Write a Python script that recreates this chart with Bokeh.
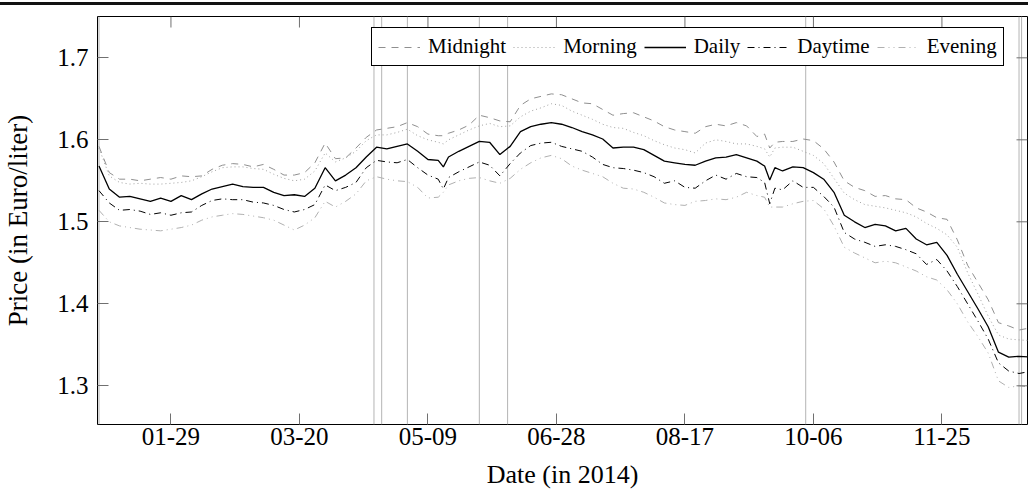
from bokeh.plotting import figure
from bokeh.models import FixedTicker, Span, Div
from bokeh.layouts import column
from bokeh.embed import file_html
from bokeh.resources import INLINE

# day of year 2014 (0 = Jan 01)
days = [0, 4, 8, 12, 16, 20, 24, 28, 32, 36,
        40, 44, 48, 52, 56, 60, 64, 68, 72, 76,
        80, 84, 88, 92, 96, 100, 104, 108, 112, 116,
        120, 124, 128, 132, 134, 136, 140, 144, 148, 152,
        156, 160, 164, 168, 172, 176, 180, 184, 188, 192,
        196, 200, 204, 208, 212, 216, 220, 224, 228, 232,
        236, 240, 244, 248, 252, 256, 259, 261, 263, 266,
        270, 274, 278, 282, 286, 290, 294, 298, 302, 306,
        310, 314, 318, 322, 326, 330, 334, 338, 342, 346,
        350, 354, 358, 363]

midnight = [1.592, 1.560, 1.552, 1.552, 1.550, 1.552, 1.554, 1.552, 1.556, 1.555,
            1.556, 1.564, 1.569, 1.571, 1.570, 1.567, 1.570, 1.564, 1.557, 1.557,
            1.560, 1.572, 1.596, 1.577, 1.578, 1.590, 1.603, 1.612, 1.614, 1.616,
            1.621, 1.616, 1.607, 1.605, 1.605, 1.608, 1.612, 1.618, 1.630, 1.627,
            1.623, 1.622, 1.642, 1.650, 1.653, 1.656, 1.655, 1.650, 1.645, 1.644,
            1.637, 1.630, 1.632, 1.633, 1.628, 1.623, 1.616, 1.612, 1.610, 1.608,
            1.616, 1.619, 1.617, 1.621, 1.617, 1.604, 1.607, 1.590, 1.597, 1.598,
            1.598, 1.601, 1.599, 1.589, 1.573, 1.550, 1.542, 1.538, 1.531, 1.532,
            1.528, 1.527, 1.517, 1.512, 1.505, 1.503, 1.478, 1.447, 1.426, 1.405,
            1.377, 1.373, 1.368, 1.371]

morning = [1.590, 1.556, 1.548, 1.546, 1.547, 1.546, 1.546, 1.547, 1.548, 1.550,
           1.555, 1.561, 1.566, 1.567, 1.567, 1.565, 1.564, 1.558, 1.553, 1.550,
           1.552, 1.562, 1.584, 1.573, 1.578, 1.586, 1.599, 1.606, 1.606, 1.609,
           1.613, 1.605, 1.600, 1.597, 1.595, 1.600, 1.606, 1.612, 1.617, 1.620,
           1.616, 1.617, 1.628, 1.635, 1.639, 1.644, 1.642, 1.635, 1.630, 1.625,
           1.619, 1.615, 1.614, 1.609, 1.605, 1.599, 1.594, 1.590, 1.588, 1.584,
           1.596, 1.600, 1.598, 1.595, 1.595, 1.592, 1.589, 1.579, 1.590, 1.591,
           1.591, 1.586, 1.581, 1.571, 1.553, 1.535, 1.527, 1.521, 1.519, 1.517,
           1.514, 1.511, 1.506, 1.498, 1.492, 1.484, 1.469, 1.438, 1.412, 1.385,
           1.362, 1.357, 1.356, 1.355]

daily = [1.568, 1.540, 1.530, 1.531, 1.528, 1.525, 1.529, 1.525, 1.532, 1.527,
         1.534, 1.540, 1.543, 1.546, 1.543, 1.542, 1.542, 1.536, 1.532, 1.533,
         1.531, 1.541, 1.566, 1.550, 1.557, 1.566, 1.579, 1.591, 1.589, 1.592,
         1.595, 1.586, 1.576, 1.575, 1.567, 1.579, 1.586, 1.592, 1.598, 1.597,
         1.582, 1.592, 1.610, 1.616, 1.619, 1.621, 1.619, 1.615, 1.610, 1.606,
         1.601, 1.590, 1.591, 1.591, 1.588, 1.581, 1.574, 1.572, 1.570, 1.569,
         1.574, 1.578, 1.579, 1.582, 1.578, 1.574, 1.568, 1.551, 1.566, 1.562,
         1.567, 1.566, 1.560, 1.552, 1.536, 1.508, 1.500, 1.493, 1.497, 1.495,
         1.489, 1.492, 1.479, 1.472, 1.475, 1.459, 1.436, 1.415, 1.394, 1.372,
         1.341, 1.335, 1.336, 1.335]

daytime = [1.538, 1.523, 1.514, 1.515, 1.513, 1.509, 1.511, 1.508, 1.511, 1.512,
           1.520, 1.526, 1.528, 1.527, 1.527, 1.524, 1.523, 1.520, 1.515, 1.512,
           1.515, 1.521, 1.545, 1.538, 1.542, 1.548, 1.566, 1.575, 1.573, 1.572,
           1.576, 1.566, 1.557, 1.552, 1.540, 1.554, 1.561, 1.567, 1.573, 1.569,
           1.556, 1.571, 1.584, 1.593, 1.596, 1.597, 1.592, 1.589, 1.586, 1.579,
           1.570, 1.566, 1.565, 1.563, 1.560, 1.555, 1.547, 1.550, 1.542, 1.541,
           1.550, 1.557, 1.552, 1.559, 1.555, 1.554, 1.548, 1.522, 1.541, 1.539,
           1.550, 1.542, 1.542, 1.531, 1.518, 1.487, 1.479, 1.475, 1.470, 1.472,
           1.470, 1.466, 1.461, 1.448, 1.454, 1.440, 1.421, 1.400, 1.379, 1.357,
           1.328, 1.318, 1.315, 1.318]

evening = [1.514, 1.500, 1.495, 1.493, 1.491, 1.490, 1.489, 1.491, 1.493, 1.496,
           1.502, 1.506, 1.508, 1.510, 1.509, 1.507, 1.505, 1.502, 1.496, 1.490,
           1.496, 1.505, 1.525, 1.518, 1.525, 1.534, 1.550, 1.555, 1.552, 1.550,
           1.549, 1.542, 1.529, 1.530, 1.536, 1.545, 1.550, 1.553, 1.554, 1.550,
           1.547, 1.553, 1.564, 1.572, 1.578, 1.581, 1.577, 1.568, 1.563, 1.559,
           1.555, 1.547, 1.541, 1.540, 1.536, 1.530, 1.523, 1.521, 1.520, 1.525,
           1.526, 1.528, 1.527, 1.530, 1.536, 1.532, 1.530, 1.518, 1.518, 1.518,
           1.522, 1.525, 1.526, 1.516, 1.495, 1.469, 1.462, 1.456, 1.450, 1.452,
           1.450, 1.445, 1.440, 1.433, 1.429, 1.417, 1.400, 1.378, 1.360, 1.340,
           1.306, 1.298, 1.300, 1.298]

# public holidays (day of year) shown as vertical rules
holidays = [0, 107, 110, 120, 148, 159, 275, 358, 359]

tick_days = [28, 78, 128, 178, 228, 278, 328]
tick_labels = ["01-29", "03-20", "05-09", "06-28", "08-17", "10-06", "11-25"]
y_ticks = [1.3, 1.4, 1.5, 1.6, 1.7]
y_tick_labels = ["1.3", "1.4", "1.5", "1.6", "1.7"]

FONT = "Liberation Serif"
TICK_COLOR = "#707070"

X0, X1 = -0.58, 361.3
Y0, Y1 = 1.2528, 1.7504
FRAME_W, FRAME_H = 930, 408
TICK_LEN = 11

# thin page rule across the top
rule = Div(text="", width=1028, height=3, margin=(2, 0, 0, 0),
           styles={"background-color": "#111111"})

p = figure(width=1028, height=490, output_backend="svg", toolbar_location=None,
           x_range=(X0, X1), y_range=(Y0, Y1),
           min_border_left=97, min_border_right=1, min_border_top=11,
           min_border_bottom=71)

p.grid.visible = False
p.outline_line_color = "black"
p.outline_line_width = 1
p.outline_line_alpha = 1
p.background_fill_color = "white"
p.border_fill_color = "white"

for d in holidays:
    p.add_layout(Span(location=d, dimension="height", line_color="#b4b4b4",
                      line_width=1, level="underlay"))

p.line(days, midnight, line_color="#8f8f8f", line_width=1, line_dash="7 6",
       legend_label="Midnight")
p.line(days, morning, line_color="#a0a0a0", line_width=1, line_dash="1 3",
       legend_label="Morning")
p.line(days, daily, line_color="black", line_width=1.3, legend_label="Daily")
p.line(days, daytime, line_color="black", line_width=1, line_dash="7 4 1 4",
       legend_label="Daytime")
p.line(days, evening, line_color="#b0b0b0", line_width=1,
       line_dash="7 4 1 4 1 4", legend_label="Evening")

# mirrored inward ticks on the top and right edges
ty = Y1 - TICK_LEN * (Y1 - Y0) / FRAME_H
p.segment(x0=tick_days, y0=[Y1] * len(tick_days), x1=tick_days,
          y1=[ty] * len(tick_days), line_color=TICK_COLOR, line_width=1)
tx = X1 - TICK_LEN * (X1 - X0) / FRAME_W
p.segment(x0=[X1] * len(y_ticks), y0=y_ticks, x1=[tx] * len(y_ticks),
          y1=y_ticks, line_color=TICK_COLOR, line_width=1)

# bottom axis
xa = p.xaxis[0]
xa.ticker = FixedTicker(ticks=tick_days)
xa.major_label_overrides = {d: l for d, l in zip(tick_days, tick_labels)}
xa.axis_label = "Date (in 2014)"

# left axis
ya = p.yaxis[0]
ya.ticker = FixedTicker(ticks=y_ticks)
ya.major_label_overrides = {v: l for v, l in zip(y_ticks, y_tick_labels)}
ya.axis_label = "Price (in Euro/liter)"

for ax in (xa, ya):
    ax.axis_line_color = None
    ax.major_tick_in = TICK_LEN
    ax.major_tick_out = 0
    ax.minor_tick_in = 0
    ax.minor_tick_out = 0
    ax.major_tick_line_color = TICK_COLOR
    ax.major_label_text_font = FONT
    ax.major_label_text_font_size = "25px"
    ax.major_label_text_color = "black"
    ax.axis_label_text_font = FONT
    ax.axis_label_text_font_style = "normal"
    ax.axis_label_text_color = "black"

xa.axis_label_text_font_size = "26px"
ya.axis_label_text_font_size = "27px"
xa.major_label_standoff = 3
xa.axis_label_standoff = 12
ya.major_label_standoff = 9
ya.axis_label_standoff = 21

lg = p.legend[0]
lg.location = (274, 358)
lg.orientation = "horizontal"
lg.margin = 0
lg.padding = 6
lg.spacing = 7
lg.glyph_width = 42
lg.glyph_height = 22
lg.label_height = 22
lg.label_standoff = 8
lg.label_text_font = FONT
lg.label_text_font_size = "21px"
lg.label_text_color = "black"
lg.border_line_color = "black"
lg.border_line_width = 1
lg.border_line_alpha = 1
lg.background_fill_color = "white"
lg.background_fill_alpha = 1

layout = column(rule, p, spacing=0)
open("out.html", "w").write(file_html(layout, INLINE))
